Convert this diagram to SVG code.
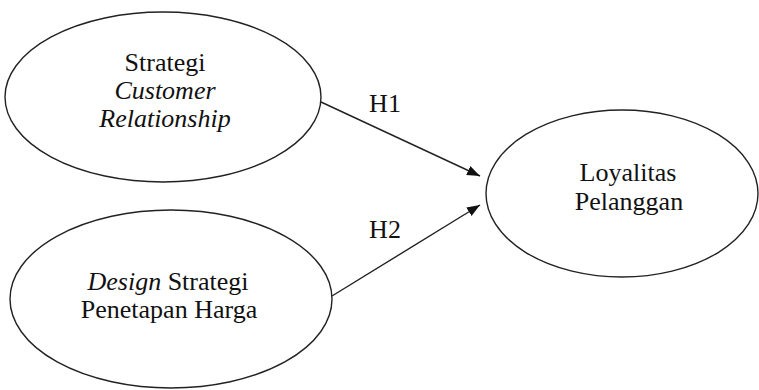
<svg xmlns="http://www.w3.org/2000/svg" width="759" height="390" viewBox="0 0 759 390">
<style>
.node ellipse{fill:#fff;stroke:#222;stroke-width:1.4}
.conn line{stroke:#222;stroke-width:1.4}
</style>
<defs>
<marker id="arr" markerUnits="userSpaceOnUse" markerWidth="14" markerHeight="12" refX="13" refY="5" orient="auto">
<path d="M0,0 L13,5 L0,10 Z" fill="#111"/>
</marker>
</defs>
<rect width="759" height="390" fill="#fff"/>
<g font-family="Liberation Serif, Times New Roman, serif" font-size="26" fill="#111" text-anchor="middle">
<g id="n1" class="node">
<ellipse cx="163" cy="97" rx="158" ry="85"/>
<text x="165" y="71">Strategi</text>
<text x="165" y="99" font-style="italic">Customer</text>
<text x="165" y="127" font-style="italic">Relationship</text>
</g>
<g id="n2" class="node">
<ellipse cx="171" cy="299" rx="161" ry="89"/>
<text x="168" y="290"><tspan font-style="italic">Design</tspan> Strategi</text>
<text x="169" y="318">Penetapan Harga</text>
</g>
<g id="n3" class="node">
<ellipse cx="622" cy="193.5" rx="136" ry="83.5"/>
<text x="628" y="181">Loyalitas</text>
<text x="629" y="210">Pelanggan</text>
</g>
<g id="connectors" class="conn">
<line x1="321" y1="102" x2="480" y2="176" marker-end="url(#arr)"/>
<line x1="332" y1="296" x2="480" y2="205" marker-end="url(#arr)"/>
<text x="385" y="112">H1</text>
<text x="385" y="238">H2</text>
</g>
</g>
</svg>
